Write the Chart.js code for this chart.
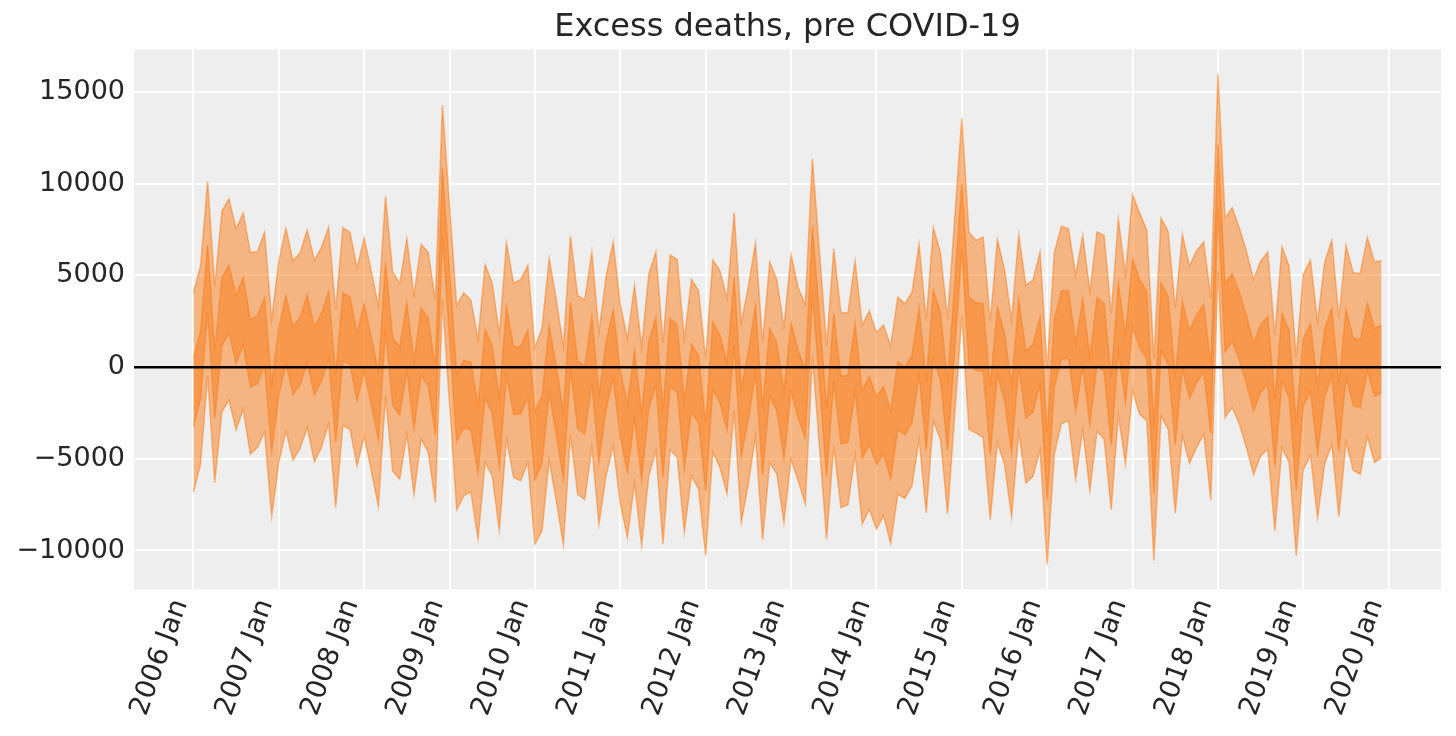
<!DOCTYPE html>
<html>
<head>
<meta charset="utf-8">
<script src="https://cdn.jsdelivr.net/npm/chart.js@4.4.0/dist/chart.umd.min.js"></script>
<style>
html, body { margin: 0; padding: 0; background: #ffffff; }
</style>
</head>
<body>
<canvas id="GraficoExcesso" width="1456" height="736"></canvas>
<script>
// outer band (94%) and inner band (50%), one row per year, Jan..Dec 2006-2019
var hi94 = [
    4060, 5510, 10140, 4420, 8500, 9180, 7540, 8410, 6270, 6290, 7360, 2640,
    5780, 7580, 5800, 6240, 7470, 5820, 6540, 7630, 3150, 7600, 7360, 5420,
    7050, 5240, 3330, 9320, 5200, 4570, 7000, 3910, 6690, 6270, 3660, 14280,
    8830, 3370, 4060, 3660, 1520, 5600, 4570, 1790, 6780, 4570, 4780, 5550,
    1060, 2150, 5910, 3690, 1120, 7140, 3910, 3660, 6270, 1920, 4960, 6820,
    3420, 1550, 4460, 1120, 5060, 6290, 1330, 6110, 5870, 1550, 4780, 4180,
    460, 5840, 5270, 3730, 8450, 2420, 4420, 6780, 1370, 5730, 4780, 2170,
    6140, 4330, 3420, 11370, 6270, 1150, 6450, 2970, 2970, 5780, 2300, 3060,
    1880, 2300, 1150, 3820, 3460, 4090, 6690, 2550, 7600, 6240, 2640, 8120,
    13580, 7360, 6920, 7090, 2480, 6960, 5330, 2570, 7230, 4460, 4750, 6270,
    -30, 6240, 7690, 7540, 5020, 7180, 4130, 7380, 7180, 2930, 8090, 5060,
    9410, 8410, 7470, 430, 8140, 7420, 3200, 7230, 5510, 6360, 6830, 3730,
    16000, 8140, 8690, 7600, 6330, 4780, 5780, 6270, 1790, 6560, 5510, 550,
    5060, 5840, 2510, 5730, 6920, 2700, 6650, 5150, 5110, 7090, 5750, 5800
];
var lo94 = [
    -6830, -5290, -480, -6290, -2440, -1790, -3420, -2300, -4750, -4380, -3530, -8140,
    -5200, -3480, -5070, -4440, -3290, -5160, -4380, -3080, -7650, -3200, -3390, -5380,
    -3780, -5650, -7600, -1570, -5650, -6110, -3660, -6960, -3930, -4620, -7380, 3690,
    -2040, -7780, -7020, -6800, -9380, -5200, -5930, -8920, -3930, -6020, -6200, -5200,
    -9650, -8920, -5070, -7290, -9680, -3690, -6920, -7230, -4380, -8560, -5930, -4290,
    -7470, -9280, -6330, -9740, -5930, -4560, -9650, -4510, -4930, -9010, -5930, -6650,
    -10280, -4620, -5470, -6920, -2390, -8470, -6370, -3750, -9430, -5200, -5840, -8470,
    -5020, -6200, -7470, 610, -4380, -9380, -4290, -7650, -7520, -4750, -8560, -7740,
    -8830, -8100, -9610, -6920, -7160, -6470, -3930, -7960, -2930, -3930, -8010, -2620,
    2790, -3390, -3600, -3840, -8320, -4110, -5290, -8190, -3530, -6330, -5960, -4510,
    -10770, -4750, -3080, -2930, -6110, -3400, -6740, -3480, -3930, -7780, -2610, -5290,
    -1300, -2570, -2930, -10550, -2660, -3390, -7960, -3710, -5240, -4380, -3660, -7250,
    5240, -2750, -2190, -3110, -4380, -5840, -4840, -4470, -8920, -4380, -5200, -10280,
    -5600, -4800, -8230, -5290, -4200, -8160, -4080, -5620, -5840, -3780, -5200, -4930
];
var hi50 = [
    460, 1960, 6680, 910, 4880, 5540, 3910, 4910, 2610, 2800, 3770, -880,
    2140, 3900, 2210, 2750, 3940, 2180, 2930, 4130, -400, 4050, 3840, 1870,
    3480, 1640, -280, 5730, 1620, 1080, 3520, 320, 3230, 2680, -10, 10860,
    5240, -360, 370, 280, -2080, 2050, 1170, -1720, 3280, 1120, 1140, 2020,
    -2440, -1540, 2270, 50, -2430, 3570, 340, 60, 2790, -1470, 1370, 3110,
    -170, -2020, 910, -2460, 1410, 2710, -2310, 2650, 2320, -1880, 1280, 620,
    -3060, 2460, 1750, 250, 4880, -1170, 870, 3370, -2180, 2110, 1320, -1300,
    2410, 910, -170, 7690, 2790, -2260, 2930, -490, -430, 2370, -1280, -490,
    -1630, -1050, -2380, 300, 0, 660, 3230, -850, 4180, 3000, -840, 4600,
    10010, 3840, 3510, 3470, -1070, 3280, 1870, -960, 3700, 910, 1240, 2730,
    -3550, 2590, 4160, 4160, 1300, 3740, 540, 3800, 3470, -570, 4590, 1730,
    5910, 4770, 4120, -3210, 4590, 3870, -530, 3610, 1990, 2840, 3440, 90,
    12130, 4550, 5100, 4090, 2820, 1320, 2320, 2750, -1720, 2940, 2000, -3010,
    1580, 2370, -1010, 2070, 3210, -880, 3140, 1610, 1490, 3500, 2120, 2290
];
var lo50 = [
    -3240, -1740, 2980, -2790, 1180, 1840, 210, 1210, -1090, -900, 70, -4580,
    -1560, 200, -1490, -950, 240, -1520, -770, 430, -4100, 350, 140, -1830,
    -220, -2060, -3980, 2030, -2080, -2620, -180, -3380, -470, -1020, -3710, 7140,
    1540, -4060, -3330, -3420, -5780, -1650, -2530, -5420, -420, -2580, -2560, -1680,
    -6140, -5240, -1430, -3650, -6130, -130, -3360, -3640, -910, -5170, -2330, -590,
    -3870, -5720, -2790, -6160, -2290, -990, -6010, -1050, -1380, -5580, -2420, -3080,
    -6760, -1240, -1950, -3450, 1180, -4870, -2830, -330, -5880, -1590, -2380, -5000,
    -1290, -2790, -3870, 3970, -910, -5960, -770, -4190, -4130, -1330, -4980, -4190,
    -5330, -4750, -6080, -3400, -3700, -3040, -470, -4550, 480, -700, -4540, 900,
    6420, 140, -190, -230, -4770, -420, -1830, -4660, 0, -2790, -2460, -970,
    -7250, -1110, 460, 460, -2400, 40, -3160, 100, -230, -4270, 890, -1970,
    2210, 1070, 420, -6910, 890, 170, -4230, -90, -1710, -860, -260, -3610,
    8590, 850, 1400, 390, -880, -2380, -1380, -950, -5420, -760, -1700, -6710,
    -2120, -1330, -4710, -1630, -490, -4580, -560, -2090, -2210, -200, -1580, -1410
];

// x ticks: month index of each January
var tickPositions = [0, 12, 24, 36, 48, 60, 72, 84, 96, 108, 120, 132, 144, 156, 168];
var tickLabels = ['2006 Jan', '2007 Jan', '2008 Jan', '2009 Jan', '2010 Jan', '2011 Jan', '2012 Jan',
    '2013 Jan', '2014 Jan', '2015 Jan', '2016 Jan', '2017 Jan', '2018 Jan', '2019 Jan', '2020 Jan'];
var yTicks = [-10000, -5000, 0, 5000, 10000, 15000];

var corLaranja = 'rgba(250, 124, 23, 0.5)';

function PegarPontos(valores) {
    return valores.map(function (v, i) { return { x: i, y: v }; });
}

function Banda(valores, alvo) {
    return {
        data: PegarPontos(valores),
        borderColor: corLaranja,
        backgroundColor: corLaranja,
        borderWidth: 1.5,
        pointRadius: 0,
        tension: 0,
        fill: alvo
    };
}

// grey plot background + black zero line on top of the bands
var fundoPlot = {
    id: 'fundoPlot',
    beforeDraw: function (chart) {
        var a = chart.chartArea, ctx = chart.ctx;
        ctx.save();
        ctx.fillStyle = '#eeeeee';
        ctx.fillRect(a.left, a.top, a.right - a.left, a.bottom - a.top);
        ctx.restore();
    },
    afterDatasetsDraw: function (chart) {
        var a = chart.chartArea, ctx = chart.ctx;
        var y0 = chart.scales.y.getPixelForValue(0);
        ctx.save();
        ctx.strokeStyle = '#000000';
        ctx.lineWidth = 2.5;
        ctx.beginPath();
        ctx.moveTo(a.left, y0);
        ctx.lineTo(a.right, y0);
        ctx.stroke();
        ctx.restore();
    }
};

Chart.defaults.font.family = "'DejaVu Sans', sans-serif";
Chart.defaults.color = '#262626';

var ctx = document.getElementById('GraficoExcesso').getContext('2d');
var grafico = new Chart(ctx, {
    type: 'line',
    data: {
        datasets: [
            Banda(hi94, 1),
            Banda(lo94, false),
            Banda(hi50, 3),
            Banda(lo50, false)
        ]
    },
    plugins: [fundoPlot],
    options: {
        responsive: false,
        animation: false,
        layout: { padding: { left: 0, right: 15, top: 0, bottom: 0 } },
        plugins: {
            legend: { display: false },
            tooltip: { enabled: false },
            title: {
                display: true,
                text: 'Excess deaths, pre COVID-19',
                fullSize: false,
                color: '#262626',
                font: { size: 32, weight: 'normal' },
                padding: { top: 8, bottom: 3 }
            }
        },
        scales: {
            x: {
                type: 'linear',
                min: -8.35,
                max: 175.35,
                afterBuildTicks: function (s) {
                    s.ticks = tickPositions.map(function (v) { return { value: v }; });
                },
                afterFit: function (s) { s.height = 147; },
                ticks: {
                    autoSkip: false,
                    minRotation: 70,
                    maxRotation: 70,
                    padding: 6,
                    labelOffset: -13,
                    font: { size: 27.5 },
                    callback: function (v, i) { return tickLabels[i]; }
                },
                grid: { color: '#ffffff', lineWidth: 2, drawTicks: false },
                border: { display: false }
            },
            y: {
                min: -12100,
                max: 17330,
                afterBuildTicks: function (s) {
                    s.ticks = yTicks.map(function (v) { return { value: v }; });
                },
                afterFit: function (s) { s.width = 134; },
                ticks: {
                    padding: 9,
                    font: { size: 27 },
                    callback: function (v) { return v < 0 ? '\u2212' + Math.abs(v) : String(v); }
                },
                grid: { color: '#ffffff', lineWidth: 2, drawTicks: false },
                border: { display: false }
            }
        }
    }
});
</script>
</body>
</html>
